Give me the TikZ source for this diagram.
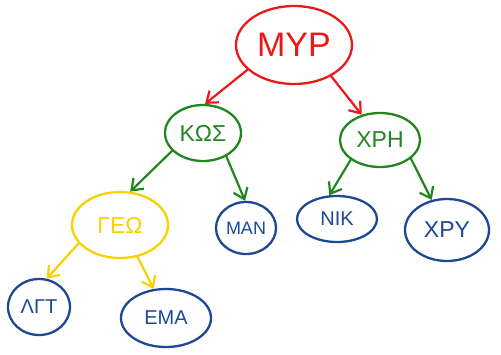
\documentclass[tikz,border=0pt]{standalone}
\usepackage{fontspec}
\setmainfont{Liberation Sans}
\usetikzlibrary{shapes.geometric,arrows.meta}
\definecolor{hred}{RGB}{236,24,24}
\definecolor{hgreen}{RGB}{34,134,30}
\definecolor{hyellow}{RGB}{250,208,0}
\definecolor{hblue}{RGB}{28,72,150}
\tikzset{
  bub/.style={ellipse, draw, line width=2.3pt, inner sep=0pt},
  arr/.style={line width=2.2pt, -{Straight Barb[length=10pt,width=15pt,line width=2.2pt]}, line cap=round}
}
\begin{document}
\begin{tikzpicture}[x=1pt,y=-1pt]
\useasboundingbox (0,0) rectangle (501,354);
\node[bub, hred, minimum width=116pt, minimum height=78pt, font=\fontsize{34}{36}\selectfont] (myr) at (294,45) {ΜΥΡ};
\node[bub, hgreen, minimum width=76pt, minimum height=56pt, font=\fontsize{23}{25}\selectfont] (kos) at (203,133) {ΚΩΣ};
\node[bub, hgreen, minimum width=80pt, minimum height=54pt, font=\fontsize{23}{25}\selectfont] (xri) at (380,140) {ΧΡΗ};
\node[bub, hyellow, minimum width=96pt, minimum height=66pt, font=\fontsize{23}{25}\selectfont] (geo) at (120,225) {ΓΕΩ};
\node[bub, hblue, minimum width=60pt, minimum height=52pt, font=\fontsize{18}{20}\selectfont] (man) at (246,228) {ΜΑΝ};
\node[bub, hblue, minimum width=80pt, minimum height=46pt, font=\fontsize{20}{22}\selectfont] (nik) at (337,219) {ΝΙΚ};
\node[bub, hblue, minimum width=84pt, minimum height=62pt, font=\fontsize{23}{25}\selectfont] (xry) at (447,230) {ΧΡΥ};
\node[bub, hblue, minimum width=62pt, minimum height=56pt, font=\fontsize{20}{22}\selectfont] (lgt) at (39,307) {ΛΓΤ};
\node[bub, hblue, minimum width=90pt, minimum height=58pt, font=\fontsize{20}{22}\selectfont] (ema) at (166,318) {ΕΜΑ};
\draw[arr, hred] (myr.208) -- (kos.86);
\draw[arr, hred] (myr.320) -- (xri.126);
\draw[arr, hgreen] (kos.210) -- (geo.73);
\draw[arr, hgreen] (kos.315) -- (man.92);
\draw[arr, hgreen] (xri.214) -- (nik.108);
\draw[arr, hgreen] (xri.329) -- (xry.117);
\draw[arr, hyellow] (geo.204) -- (lgt.75);
\draw[arr, hyellow] (geo.299) -- (ema.113);
\end{tikzpicture}
\end{document}
